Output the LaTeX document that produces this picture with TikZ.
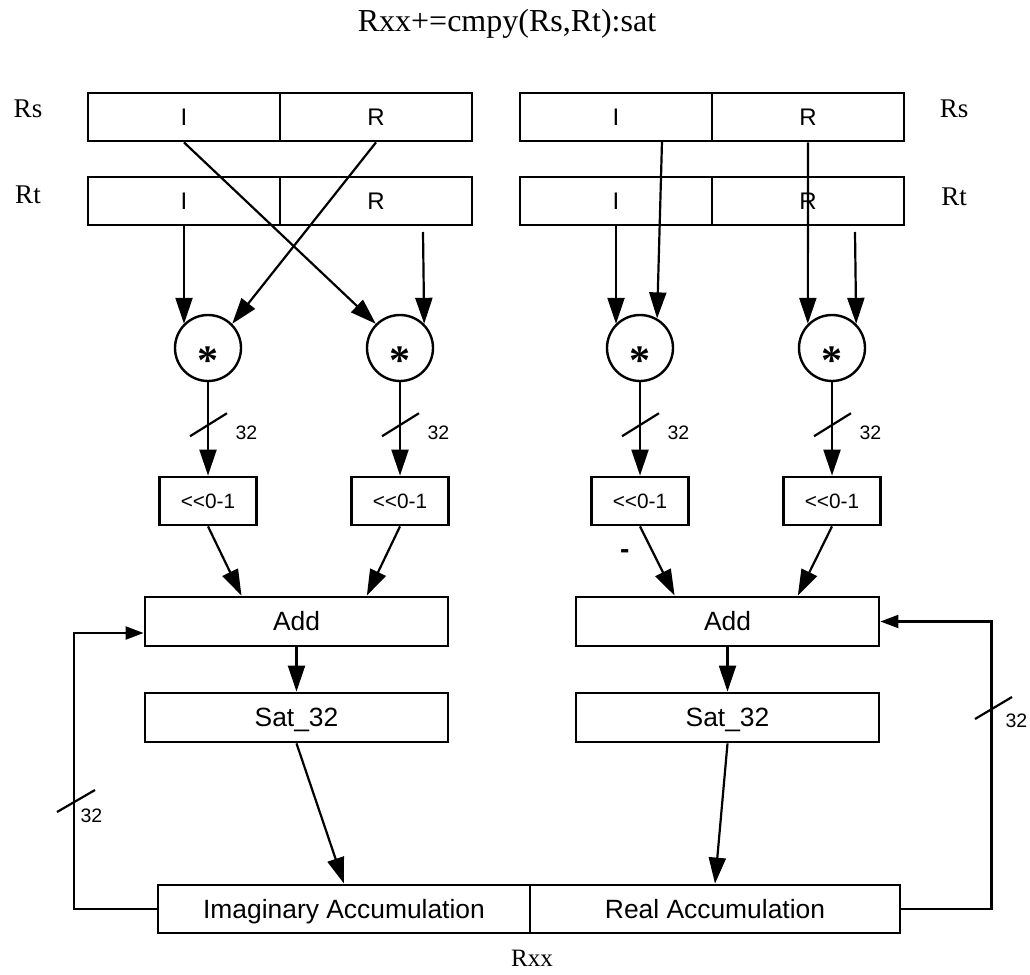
\documentclass[tikz,border=0pt]{standalone}
\usepackage{fontspec}
\setmainfont{Liberation Serif}
\setsansfont{Liberation Sans}
\usetikzlibrary{arrows.meta,calc}

\begin{document}
\begin{tikzpicture}[x=1pt,y=1pt,
    cell/.style={draw,line width=2.8pt,inner sep=0pt,minimum width=192pt,minimum height=48pt,text height=17.2pt,text depth=0pt,font=\sffamily\fontsize{24}{27}\selectfont},
    mult/.style={circle,draw,line width=2.4pt,minimum size=66pt,inner sep=0pt,text height=0pt,text depth=0pt,font=\bfseries\fontsize{42}{42}\selectfont},
    shiftbox/.style={draw,line width=2.8pt,inner sep=0pt,minimum width=97pt,minimum height=48pt,text height=14.9pt,text depth=0pt,font=\sffamily\fontsize{20.8}{24}\selectfont},
    wide/.style={draw,line width=2.8pt,inner sep=0pt,minimum width=303pt,minimum height=49pt,text height=18.9pt,text depth=0pt,font=\sffamily\fontsize{26.4}{30}\selectfont},
    conn/.style={line width=2.2pt,-{Triangle[length=26pt,width=17pt]}},
    fback/.style={line width=2.2pt,-{Triangle[length=18pt,width=13pt]}},
    tick/.style={line width=2.2pt},
    bits/.style={font=\sffamily\fontsize{19.5}{22}\selectfont},
    reglabel/.style={font=\fontsize{27}{30}\selectfont,anchor=base}]
  \useasboundingbox (0,0) rectangle (1030,-974);

  \node[font=\fontsize{32}{36}\selectfont,anchor=base] (title) at (507,-32) {Rxx+=cmpy(Rs,Rt):sat};

  % source registers
  \node[cell] (rsIa) at (184,-117) {I};
  \node[cell] (rsRa) at (376,-117) {R};
  \node[cell] (rtIa) at (184,-201) {I};
  \node[cell] (rtRa) at (376,-201) {R};
  \node[cell] (rsIb) at (616,-117) {I};
  \node[cell] (rsRb) at (808,-117) {R};
  \node[cell] (rtIb) at (616,-201) {I};
  \node[cell] (rtRb) at (808,-201) {R};
  \node[reglabel] (rsL) at (28,-117) {Rs};
  \node[reglabel] (rtL) at (28,-203) {Rt};
  \node[reglabel] (rsR) at (954,-117) {Rs};
  \node[reglabel] (rtR) at (954,-205) {Rt};

  % multipliers and shifters
  \node[mult] (cA) at (208,-348) {\raisebox{-26pt}{*}};
  \node[mult] (cB) at (400,-348) {\raisebox{-26pt}{*}};
  \node[mult] (cC) at (640,-348) {\raisebox{-26pt}{*}};
  \node[mult] (cD) at (832,-348) {\raisebox{-26pt}{*}};
  \node[shiftbox] (shA) at (208,-501) {{<}{<}0-1};
  \node[shiftbox] (shB) at (400,-501) {{<}{<}0-1};
  \node[shiftbox] (shC) at (640,-501) {{<}{<}0-1};
  \node[shiftbox] (shD) at (832,-501) {{<}{<}0-1};

  \node[wide] (addL) at (296.5,-621.5) {Add};
  \node[wide] (addR) at (727.5,-621.5) {Add};
  \node[wide] (satL) at (296.5,-717.5) {Sat\_32};
  \node[wide] (satR) at (727.5,-717.5) {Sat\_32};
  \node[wide,minimum width=372pt,minimum height=48pt] (accI) at (344,-909) {Imaginary Accumulation};
  \node[wide,minimum width=370pt,minimum height=48pt] (accR) at (715,-909) {Real Accumulation};
  \node[font=\fontsize{25}{28}\selectfont,anchor=base] (rxx) at (532,-966) {Rxx};

  \coordinate (tapB) at (423,-232);
  \coordinate (tapC) at (662,-141);
  \coordinate (tapD) at (855,-232);

  % operands into the multipliers
  \draw[conn] (rtIa.south) -- (rtIa.south |- cA.135);
  \draw[conn] (rsRa.south) -- (cA.45);
  \draw[conn] (rsIa.south) -- (cB.135);
  \draw[conn] (tapB) -- (cB.45);
  \draw[conn] (rtIb.south) -- (rtIb.south |- cC.135);
  \draw[conn] (tapC) -- (cC.60);
  \draw[conn] (rsRb.south) -- (cD.135);
  \draw[conn] (tapD) -- (cD.45);

  \foreach \c in {A,B,C,D} {
    \draw[conn] (c\c) -- (sh\c);
    \coordinate (m\c) at ($(c\c.south)!0.45!(sh\c.north)$);
    \draw[tick] ($(m\c)+(-18,-12)$) -- ($(m\c)+(19,11)$);
    \node[bits,anchor=west] at ($(m\c)+(24,-9)$) {32};
  }

  \draw[conn] (shA.south) -- ($(addL.north west)!0.32!(addL.north east)$);
  \draw[conn] (shB.south) -- ($(addL.north west)!0.73!(addL.north east)$);
  \draw[conn] (shC.south) -- node[pos=0.4,left=20pt,font=\sffamily\bfseries\fontsize{28}{30}\selectfont] (neg) {-} ($(addR.north west)!0.327!(addR.north east)$);
  \draw[conn] (shD.south) -- ($(addR.north west)!0.73!(addR.north east)$);

  \draw[conn] (addL) -- (satL);
  \draw[conn] (addR) -- (satR);
  \draw[conn] (satL.south) -- (accI.north);
  \draw[conn] (satR.south) -- (accR.north);

  % accumulator feedback
  \draw[fback] (accI.west) -- ++(-83,0) |- ($(addL.west)+(0,-11.5)$);
  \draw[tick] (57,-812) -- (95,-790);
  \node[bits,anchor=west] at (77,-816) {32};
  \draw[fback] (accR.east) -- ++(90,0) |- (addR.east);
  \draw[tick] (975,-719) -- (1012,-697);
  \node[bits,anchor=west] at (1002,-721) {32};
\end{tikzpicture}
\end{document}
